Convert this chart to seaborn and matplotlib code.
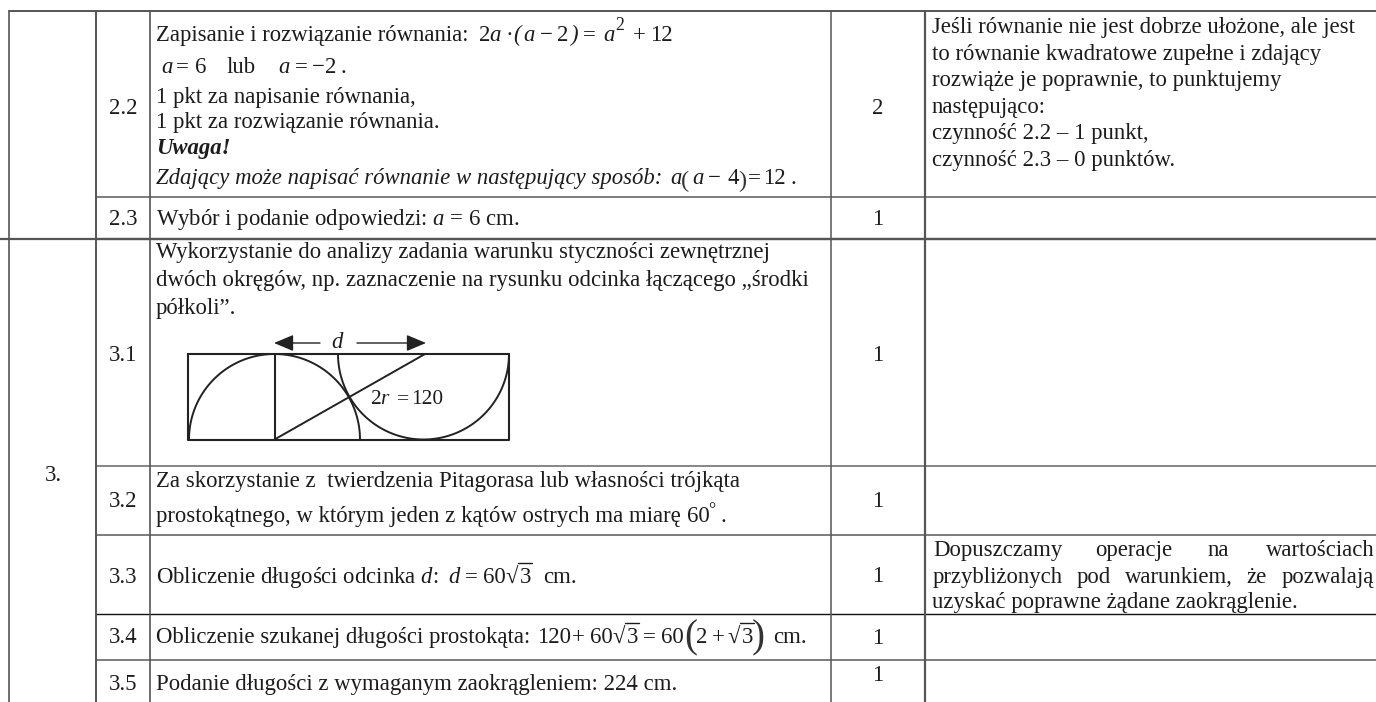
import numpy as np
import pandas as pd
import matplotlib.pyplot as plt
import seaborn as sns

plt.switch_backend('Agg')

# table content
task_label = "3."
row_labels = ["2.2", "2.3", "3.1", "3.2", "3.3", "3.4", "3.5"]
row_label_y = [114, 225, 361, 507, 583, 643, 690]
scores = ["2", "1", "1", "1", "1", "1", "1"]
score_y = [114, 225, 361, 507, 582, 644, 681]

middle_text = [
    "Zapisanie i rozwiązanie równania:",
    "1 pkt za napisanie równania,",
    "1 pkt za rozwiązanie równania.",
    "Uwaga!",
    "Zdający może napisać równanie w następujący sposób:",
    r"Wybór i podanie odpowiedzi: $a$ = 6 cm.",
    "Wykorzystanie do analizy zadania warunku styczności zewnętrznej",
    "dwóch okręgów, np. zaznaczenie na rysunku odcinka łączącego „środki",
    "półkoli”.",
    "Za skorzystanie z  twierdzenia Pitagorasa lub własności trójkąta",
    "prostokątnego, w którym jeden z kątów ostrych ma miarę",
    r"Obliczenie długości odcinka $d$:",
    "Obliczenie szukanej długości prostokąta:",
    "Podanie długości z wymaganym zaokrągleniem: 224 cm.",
]
middle_y = [41, 103, 128, 154, 184, 225, 258, 286, 314, 487, 522, 583, 643, 690]
middle_style = ["normal"] * 3 + ["bolditalic", "italic"] + ["normal"] * 9

# formulas set piece by piece, the tall brackets do not come out of mathtext
formula_parts = [r"$2a$", "·", r"$a$", "−", "2", "=", r"$a$", "+", "12",
                 r"$a$", "=", "6", "lub", r"$a$", "=", "−", "2", ".",
                 r"$a$", r"$a$", "−", "4", "=", "12", ".",
                 "60", ".",
                 r"$d$", "=", "60", "3", "cm.",
                 "120", "+", "60", "3", "=", "60", "2", "+", "3", "cm."]
formula_x = [478, 505, 523, 540, 557, 583, 603, 633, 650,
             161, 176, 195, 227, 278, 295, 312, 325, 340,
             670, 692, 708, 727, 748, 763, 790,
             687, 720,
             448, 465, 483, 520, 543,
             537, 572, 590, 627, 643, 661, 696, 712, 742, 773]
formula_y = [41] * 9 + [73] * 9 + [184] * 7 + [522] * 2 + [583] * 5 + [643] * 10

italic_parts = ["(", ")"]
italic_x = [513, 570]
italic_y = [41, 41]

superscripts = ["2", "°"]
superscript_x = [615, 708]
superscript_y = [30, 515]

tall_brackets = ["(", ")", "(", ")"]
tall_bracket_x = [681, 738, 684, 752]
tall_bracket_y = [187, 187, 647, 647]
tall_bracket_size = [17.6, 17.6, 28, 28]

radical_x = [505, 612, 727]
radical_y = [583, 643, 643]

note_text = [
    "Jeśli równanie nie jest dobrze ułożone, ale jest",
    "to równanie kwadratowe zupełne i zdający",
    "rozwiąże je poprawnie, to punktujemy",
    "następująco:",
    "czynność 2.2 – 1 punkt,",
    "czynność 2.3 – 0 punktów.",
    "uzyskać poprawne żądane zaokrąglenie.",
]
note_y = [33, 60, 86, 113, 139, 166, 608]

# justified lines of the last note
justified_words = ["Dopuszczamy", "operacje", "na", "wartościach",
                   "przybliżonych", "pod", "warunkiem,", "że", "pozwalają"]
justified_x = [933, 1095, 1207, 1266, 933, 1077, 1125, 1246, 1282]
justified_y = [556, 556, 556, 556, 583, 583, 583, 583, 583]

# table rules: x0, x1, y0, y1
rule_x0 = [9, 96, 96, 0, 96, 96, 96, 96, 9, 96, 150, 831, 925]
rule_x1 = [1376, 1376, 1376, 1376, 1376, 1376, 1376, 1376, 9, 96, 150, 831, 925]
rule_y0 = [11, 197, 238.5, 238.5, 465.5, 535, 614, 660, 11, 11, 11, 11, 11]
rule_y1 = [11, 197, 238.5, 238.5, 465.5, 535, 614, 660, 702, 702, 702, 702, 702]
rule_colors = ['#555555', '#666666', '#555555', '#555555', '#666666', '#666666', '#111111',
               '#666666', '#555555', '#555555', '#555555', '#555555', '#555555']
rule_widths = [1.4, 1.2, 1.6, 1.6, 1.1, 1.2, 1.0, 1.2, 1.2, 1.4, 1.2, 1.1, 1.6]

# 3.1 sketch
box_left, box_right, box_top, box_bottom = 188, 509, 354, 439.5
radius = 85.5
left_center = [274.5, 439.5]
right_center = [423.5, 354]
diagonal_x = [274.5, 425]
diagonal_y = [439.5, 354]

sns.set_theme(style="white")
plt.rcParams['font.family'] = ['Liberation Serif', 'DejaVu Serif']
plt.rcParams['mathtext.fontset'] = 'custom'
plt.rcParams['mathtext.rm'] = 'Liberation Serif'
plt.rcParams['mathtext.it'] = 'Liberation Serif:italic'
plt.rcParams['mathtext.bf'] = 'Liberation Serif:bold'

ink = '#1c1c1c'
size = 16.4

fig = plt.figure(figsize=(13.76, 7.02), dpi=100)
ax = fig.add_axes([0, 0, 1, 1])

# grid of the table through seaborn
rules = pd.DataFrame({
    'rule': np.repeat(np.arange(len(rule_x0)), 2),
    'x': np.column_stack([rule_x0, rule_x1]).ravel(),
    'y': np.column_stack([rule_y0, rule_y1]).ravel(),
})
sns.lineplot(data=rules, x='x', y='y', hue='rule', size='rule', estimator=None, sort=False,
             palette=dict(enumerate(rule_colors)), sizes=dict(enumerate(rule_widths)),
             legend=False, ax=ax)

# sketch
line_color = '#222222'
ax.plot([box_left, box_right, box_right, box_left, box_left],
        [box_top, box_top, box_bottom, box_bottom, box_top], color=line_color, lw=1.5)
ax.plot([left_center[0], left_center[0]], [box_top, box_bottom], color=line_color, lw=1.5)
ax.plot(diagonal_x, diagonal_y, color=line_color, lw=1.4)
theta = np.linspace(0, np.pi, 120)
ax.plot(left_center[0] + radius * np.cos(theta), left_center[1] - radius * np.sin(theta),
        color=line_color, lw=1.4)
ax.plot(right_center[0] + radius * np.cos(theta), right_center[1] + radius * np.sin(theta),
        color=line_color, lw=1.4)
arrow = dict(arrowstyle='-|>,head_length=1.0,head_width=0.42', color=line_color, lw=1.0,
             shrinkA=0, shrinkB=0)
ax.annotate('', xy=(274, 343), xytext=(320, 343), arrowprops=arrow)
ax.annotate('', xy=(426, 343), xytext=(357, 343), arrowprops=arrow)
ax.text(338, 348, r"$d$", fontsize=size, ha='center', va='baseline', color=ink)
ax.text(370, 404, r"$2r$", fontsize=size - 1, ha='left', va='baseline', color=ink)
ax.text(397, 404, "=", fontsize=size - 1, ha='left', va='baseline', color=ink)
ax.text(411, 404, "120", fontsize=size - 1, ha='left', va='baseline', color=ink)

# texts
ax.text(53, 481, task_label, fontsize=size, ha='center', va='baseline', color=ink)
for label, y in zip(row_labels, row_label_y):
    ax.text(123, y, label, fontsize=size, ha='center', va='baseline', color=ink)
for score, y in zip(scores, score_y):
    ax.text(878, y, score, fontsize=size, ha='center', va='baseline', color=ink)
for line, y, style in zip(middle_text, middle_y, middle_style):
    ax.text(156, y, line, fontsize=size, ha='left', va='baseline', color=ink,
            fontstyle='italic' if 'italic' in style else 'normal',
            fontweight='bold' if 'bold' in style else 'normal')
for part, x, y in zip(formula_parts, formula_x, formula_y):
    ax.text(x, y, part, fontsize=size, ha='left', va='baseline', color=ink)
for part, x, y in zip(italic_parts, italic_x, italic_y):
    ax.text(x, y, part, fontsize=size, ha='left', va='baseline', color=ink, fontstyle='italic')
for part, x, y in zip(superscripts, superscript_x, superscript_y):
    ax.text(x, y, part, fontsize=size - 3.5, ha='left', va='baseline', color=ink)
for part, x, y, s in zip(tall_brackets, tall_bracket_x, tall_bracket_y, tall_bracket_size):
    ax.text(x, y, part, fontsize=s, ha='left', va='baseline', color='#333333')
for x, y in zip(radical_x, radical_y):
    ax.text(x, y, "√", fontsize=size, ha='left', va='baseline', color=ink)
    ax.plot([x + 13, x + 27], [y - 20, y - 20], color=ink, lw=1.0)
for line, y in zip(note_text, note_y):
    ax.text(932, y, line, fontsize=size, ha='left', va='baseline', color=ink)
for word, x, y in zip(justified_words, justified_x, justified_y):
    ax.text(x, y, word, fontsize=size, ha='left', va='baseline', color=ink)

ax.set_xlim(0, 1376)
ax.set_ylim(702, 0)
ax.axis('off')

fig.savefig('out.png', dpi=100, facecolor='white')
plt.close(fig)
